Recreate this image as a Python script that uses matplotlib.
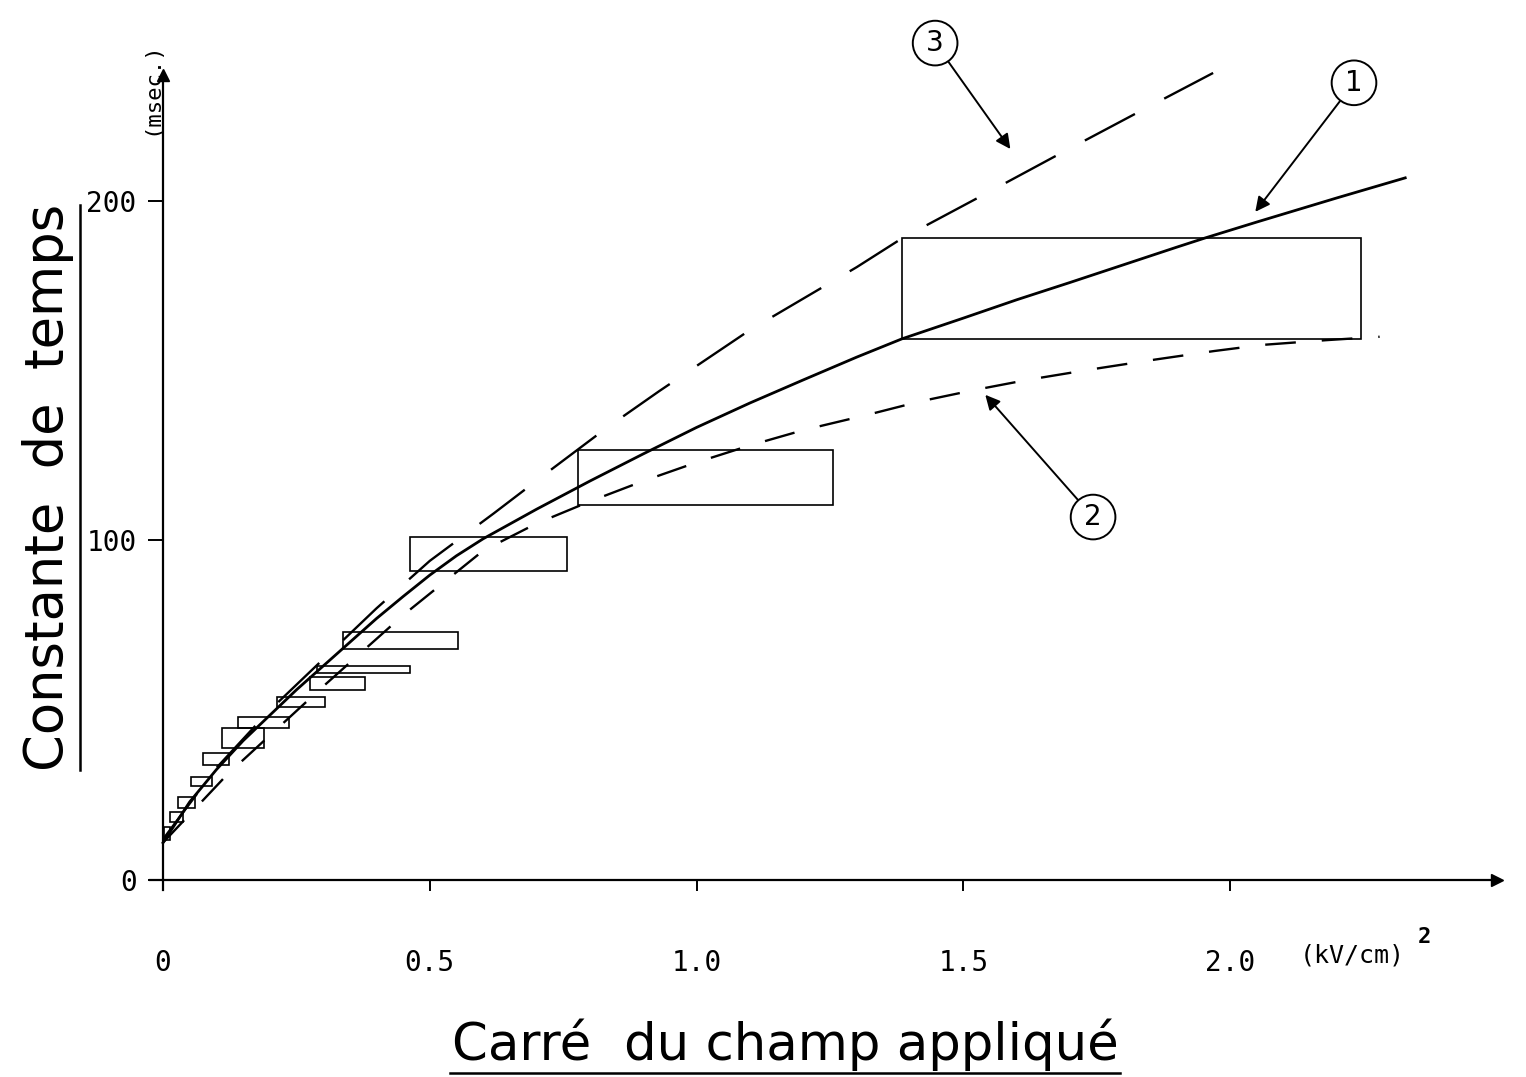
import numpy as np
import matplotlib.pyplot as plt
from matplotlib.patches import Rectangle

# courbe 1 (trait plein)
c1_x = [0.0, 0.05, 0.10, 0.15, 0.20, 0.25, 0.30, 0.35, 0.40, 0.45, 0.50, 0.55, 0.60,
        0.70, 0.80, 0.90, 1.00, 1.10, 1.20, 1.30, 1.385, 1.50, 1.60, 1.70, 1.80, 1.90,
        1.953, 2.05, 2.20, 2.328]
c1_y = [11.0, 23.0, 32.5, 41.0, 48.5, 56.0, 63.0, 70.0, 77.0, 83.5, 89.8, 95.5, 100.5,
        109.2, 117.5, 125.5, 133.3, 140.5, 147.3, 154.0, 159.4, 165.5, 170.9, 176.0, 181.2, 186.4,
        189.1, 193.8, 200.9, 206.8]

# courbe 2 (tirets, en bas)
c2_x = [0.0, 0.12, 0.30, 0.45, 0.60, 0.70, 0.80, 0.90, 1.00, 1.10, 1.20, 1.32, 1.42,
        1.52, 1.62, 1.74, 1.86, 1.97, 2.06, 2.18, 2.28]
c2_y = [11.0, 31.0, 57.0, 78.0, 97.0, 105.0, 111.5, 117.5, 123.0, 128.0, 132.5, 137.0,
        141.0, 144.3, 147.3, 150.4, 153.3, 155.8, 157.6, 159.0, 160.0]

# courbe 3 (tirets, en haut)
c3_x = [0.0, 0.10, 0.20, 0.30, 0.40, 0.50, 0.62, 0.72, 0.83, 0.93, 1.10, 1.30, 1.385, 1.54,
        1.67, 1.82, 1.968]
c3_y = [12.0, 33.0, 50.0, 65.0, 80.0, 94.0, 108.0, 120.0, 133.0, 144.0, 162.0, 180.5, 189.0,
        202.0, 213.0, 225.5, 237.7]

# rectangles (barres d'erreur)
rect_x0 = [1.385, 0.778, 0.463, 0.337, 0.289, 0.276, 0.214, 0.141, 0.111, 0.075, 0.052, 0.028, 0.013, 0.002]
rect_x1 = [2.245, 1.256, 0.757, 0.553, 0.463, 0.379, 0.304, 0.236, 0.189, 0.124, 0.092, 0.060, 0.037, 0.013]
rect_lo = [159.4, 110.5, 91.0, 68.1, 60.9, 56.0, 51.0, 44.8, 38.9, 33.9, 27.7, 21.2, 17.1, 11.8]
rect_hi = [189.1, 126.7, 101.0, 73.1, 63.0, 59.8, 53.9, 48.0, 44.8, 37.4, 30.3, 24.4, 20.0, 15.6]

xticks = [0, 0.5, 1.0, 1.5, 2.0]
xtick_labels = ['0', '0.5', '1.0', '1.5', '2.0']
yticks = [0, 100, 200]
ytick_labels = ['0', '100', '200']

W, H = 1526, 1077
fig = plt.figure(figsize=(W / 100, H / 100), dpi=100)
ax = fig.add_axes([150 / W, 1 - 890 / H, (1497 - 150) / W, (890 - 75) / H])
ax.set_xlim(-0.0244, 2.5)
ax.set_ylim(-2.95, 237.1)

for s in ['top', 'right']:
    ax.spines[s].set_visible(False)
ax.spines['left'].set_position(('data', 0))
ax.spines['bottom'].set_position(('data', 0))
ax.spines['left'].set_linewidth(1.6)
ax.spines['bottom'].set_linewidth(1.6)

# fleches des axes
ax.plot(1, 0, '>k', ms=9, transform=ax.get_yaxis_transform(), clip_on=False)
ax.plot(0, 1, '^k', ms=9, transform=ax.get_xaxis_transform(), clip_on=False)

mono = 'DejaVu Sans Mono'
ax.set_xticks(xticks)
ax.set_xticklabels(xtick_labels, family=mono, fontsize=20)
ax.set_yticks(yticks)
ax.set_yticklabels(ytick_labels, family=mono, fontsize=20)
ax.tick_params(axis='x', direction='out', length=8, width=1.4, pad=42)
ax.tick_params(axis='y', direction='out', length=11, width=1.4, pad=8)

# courbes
ax.plot(c1_x, c1_y, color='k', lw=2.0, clip_on=False)
ax.plot(c2_x, c2_y, color='k', lw=1.7, linestyle=(0, (13, 11)), clip_on=False)
ax.plot(c3_x, c3_y, color='k', lw=1.7, linestyle=(0, (24, 14)), clip_on=False)

for x0, x1, lo, hi in zip(rect_x0, rect_x1, rect_lo, rect_hi):
    ax.add_patch(Rectangle((x0, lo), x1 - x0, hi - lo, fill=False, ec='k', lw=1.2))

# reperes cercles
ap = dict(arrowstyle='-|>', color='k', lw=1.4, mutation_scale=22, shrinkA=0, shrinkB=0)
bb = dict(boxstyle='circle,pad=0.3', fc='white', ec='k', lw=1.4)
ax.annotate('1', xy=(2.047, 196.8), xytext=(2.232, 234.8), ha='center', va='center',
            fontsize=20, bbox=bb, arrowprops=ap, annotation_clip=False)
ax.annotate('2', xy=(1.541, 142.9), xytext=(1.743, 106.9), ha='center', va='center',
            fontsize=20, bbox=bb, arrowprops=ap, annotation_clip=False)
ax.annotate('3', xy=(1.588, 215.3), xytext=(1.447, 246.5), ha='center', va='center',
            fontsize=20, bbox=bb, arrowprops=ap, annotation_clip=False)

# unites
fig.text(1300 / W, 1 - 955 / H, '(kV/cm)', family=mono, fontsize=18, ha='left', va='center')
fig.text(1418 / W, 1 - 937 / H, '2', family=mono, fontsize=16, weight='bold', ha='left', va='center')
fig.text(151 / W, 1 - 88 / H, '(msec.)', family=mono, fontsize=16, rotation=90, ha='center', va='center')

# titres des axes, soulignes
fig.text(785 / W, 1 - 1045 / H, 'Carré  du champ appliqué', fontsize=37, ha='center', va='center')
fig.add_artist(plt.Line2D([450 / W, 1120 / W], [1 - 1073 / H, 1 - 1073 / H], color='k', lw=1.8))
fig.text(48 / W, 1 - 487 / H, 'Constante  de  temps', fontsize=38, rotation=90, ha='center', va='center')
fig.add_artist(plt.Line2D([80 / W, 80 / W], [1 - 770 / H, 1 - 205 / H], color='k', lw=1.8))

fig.savefig('out.png', dpi=100)
